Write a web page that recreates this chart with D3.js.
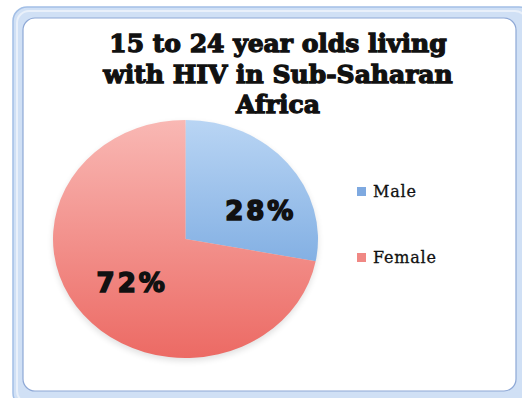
<!DOCTYPE html>
<html>
<head>
<meta charset="utf-8">
<script src="https://cdn.jsdelivr.net/npm/d3@7"></script>
<style>
  body { margin: 0; background: #fff; }
  svg { display: block; }
</style>
</head>
<body>
<div id="chart"></div>
<script>
"use strict";
const categories = ["Male", "Female"];
const values = [28, 72];
const titleLines = ["15 to 24 year olds living", "with HIV in Sub-Saharan", "Africa"];
const lightColors = ["#b9d5f4", "#f9b8b4"];
const darkColors = ["#5f97d8", "#ec6a64"];
const legendColors = ["#7ea9e0", "#f08884"];

const width = 522;
const height = 398;
const svg = d3.select("#chart")
    .append("svg")
    .attr("width", width)
    .attr("height", height);

// frame (office style chart border)
const frame = svg.append("g");
frame.append("rect")
    .attr("x", 13).attr("y", 7)
    .attr("width", 520).attr("height", 400)
    .attr("rx", 14)
    .attr("fill", "#d0e0f5")
    .attr("stroke", "#a3bfe6")
    .attr("stroke-width", 1.5);
frame.append("rect")
    .attr("x", 17).attr("y", 11)
    .attr("width", 510).attr("height", 392)
    .attr("rx", 12)
    .attr("fill", "none")
    .attr("stroke", "#e9f0fa")
    .attr("stroke-width", 2);
frame.append("rect")
    .attr("x", 23).attr("y", 18)
    .attr("width", 493).attr("height", 373)
    .attr("rx", 12)
    .attr("fill", "#fff")
    .attr("stroke", "#8ea8d6")
    .attr("stroke-width", 1.2);

// title
svg.append("text")
    .attr("x", 278)
    .attr("text-anchor", "middle")
    .style("font-family", "'DejaVu Serif', serif")
    .style("font-weight", "bold")
    .style("font-size", "25px")
    .attr("fill", "#111")
    .attr("stroke", "#111")
    .attr("stroke-width", 1.3)
    .selectAll("tspan")
    .data(titleLines)
    .enter()
    .append("tspan")
    .attr("x", 278)
    .attr("y", (d, i) => 52 + i * 30.5)
    .text(d => d);

// gradients
const defs = svg.append("defs");
const cx = 185.5, cy = 239, r = 119, sx = 132.5 / 119;
categories.forEach((c, i) => {
    const g = defs.append("linearGradient")
        .attr("id", "grad" + i)
        .attr("gradientUnits", "userSpaceOnUse")
        .attr("x1", 0).attr("y1", -r)
        .attr("x2", 0).attr("y2", r);
    g.append("stop").attr("offset", "0%").attr("stop-color", lightColors[i]);
    g.append("stop").attr("offset", "100%").attr("stop-color", darkColors[i]);
});
const blur = defs.append("filter").attr("id", "shadow")
    .attr("x", "-20%").attr("y", "-20%").attr("width", "140%").attr("height", "140%");
blur.append("feGaussianBlur").attr("stdDeviation", 3);

const pie = d3.pie().sort(null).value(d => d)(values);
const arc = d3.arc().innerRadius(0).outerRadius(r);
const pieG = svg.append("g")
    .attr("transform", `translate(${cx},${cy}) scale(${sx},1)`);
pieG.append("ellipse")
    .attr("cx", 0).attr("cy", 3)
    .attr("rx", r).attr("ry", r)
    .attr("fill", "#000")
    .attr("opacity", 0.12)
    .attr("filter", "url(#shadow)");
pieG.selectAll("path.slice")
    .data(pie)
    .enter()
    .append("path")
    .attr("class", "slice")
    .attr("d", arc)
    .attr("fill", (d, i) => `url(#grad${i})`);

// slice labels: centroid plus a small best-fit nudge
const labelArc = d3.arc().innerRadius(r * 0.62).outerRadius(r * 0.62);
const nudge = [[12, 19], [10, -3]];
svg.selectAll("text.pct")
    .data(pie)
    .enter()
    .append("text")
    .attr("class", "pct")
    .attr("x", (d, i) => cx + labelArc.centroid(d)[0] * sx + nudge[i][0])
    .attr("y", (d, i) => cy + labelArc.centroid(d)[1] + nudge[i][1] + 9)
    .attr("text-anchor", "middle")
    .style("font-family", "'DejaVu Sans', sans-serif")
    .style("font-weight", "bold")
    .style("font-size", "26px")
    .style("letter-spacing", "3px")
    .attr("fill", "#111")
    .attr("stroke", "#111")
    .attr("stroke-width", 1.6)
    .text(d => d.value + "%");

// legend
const legend = svg.append("g")
    .selectAll("g")
    .data(categories)
    .enter()
    .append("g")
    .attr("transform", (d, i) => `translate(357, ${187 + i * 66})`);
legend.append("rect")
    .attr("width", 9).attr("height", 9)
    .attr("fill", (d, i) => legendColors[i]);
legend.append("text")
    .attr("x", 16).attr("y", 10)
    .style("font-family", "'DejaVu Serif', serif")
    .style("font-size", "16px")
    .style("letter-spacing", "0.8px")
    .attr("fill", "#111")
    .attr("stroke", "#111")
    .attr("stroke-width", 0.3)
    .text(d => d);
</script>
</body>
</html>
